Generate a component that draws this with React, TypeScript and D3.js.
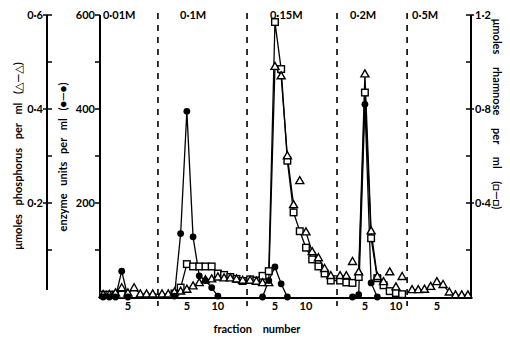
import React from "react";
import * as d3 from "d3";

// ---------- data ----------
const SALT_STEPS = ["0·01M", "0·1M", "0·15M", "0·2M", "0·5M"];
const SEG_TICKS = [[5], [5, 10], [5, 10], [5, 10], [5]];

// enzyme units per ml, per fraction (index = fraction - 1)
const ENZYME: (number | null)[][] = [
  [0, 0, 0, 55, 0, null, null, null, null],
  [null, null, 2, 135, 395, 128, 45, 35, 20, 2, null, null, null, null],
  [null, null, 0, 35, 64, 28, 0, null, null, null, null, null, null, null],
  [null, null, 0, 5, 410, 30, 0, null, null, null, null],
  [null, null, null, null, null, null, null, null, null, null],
];

// µmoles phosphorus per ml (points joined by the line)
const PHOSPHORUS: (number | null)[][] = [
  [0.005, 0.005, 0.008, 0.019, 0.008, 0.019, 0.006, 0.006, 0.006],
  [0.006, 0.006, 0.01, 0.012, 0.016, 0.023, 0.03, 0.036, 0.038, 0.042, 0.04, 0.04, 0.038, 0.035],
  [0.035, 0.033, 0.03, 0.03, 0.49, 0.47, 0.3, 0.196, null, 0.138, 0.096, 0.083, 0.06, 0.045],
  [0.045, 0.045, null, 0.053, 0.474, 0.14, 0.043, 0.032, null, 0.021, null],
  [0.015, 0.015, 0.016, 0.022, 0.032, 0.026, 0.01, 0.004, 0.004, 0.004],
];
// phosphorus points off the line: [segment, fraction, value]
const PHOSPHORUS_SCATTER: [number, number, number][] = [
  [2, 9, 0.247],
  [3, 3, 0.075],
  [3, 9, 0.053],
  [3, 11, 0.043],
];

// µmoles rhamnose per ml
const RHAMNOSE: (number | null)[][] = [
  [0.01, 0.01, 0.01, 0.01, null, null, null, null, null],
  [null, null, 0.015, 0.04, 0.14, 0.13, 0.13, 0.13, 0.13, 0.1, 0.094, 0.085, 0.077, 0.068],
  [0.075, 0.07, 0.09, 0.11, 1.17, 0.97, 0.58, 0.36, 0.28, 0.21, 0.16, 0.13, 0.1, 0.07],
  [0.07, 0.062, 0.06, 0.085, 0.87, 0.25, 0.08, 0.05, 0.025, 0.017, 0.012],
  [null, null, null, null, null, null, null, null, null, null],
];

const ENZ_TICKS = [100, 200, 300, 400, 500, 600];
const ENZ_LABELS = [200, 400, 600];
const PHOS_TICKS = [0.1, 0.2, 0.3, 0.4, 0.5, 0.6];
const PHOS_LABELS = [0.2, 0.4, 0.6];
const RHAM_TICKS = [0.2, 0.4, 0.6, 0.8, 1.0, 1.2];
const RHAM_LABELS = [0.4, 0.8, 1.2];

// ---------- layout ----------
const W = 510, H = 340;
const SEG_OFFSET = [0, 9.5, 23.7, 38.2, 49.8];
const DIVIDERS = [9.84, 24.2, 38.7, 50.0];
const SALT_LABEL_AT = [0.97, 13.4, 27.9, 40.8, 50.8];
const FONT = "Lato, 'DejaVu Sans', sans-serif";

const x = d3.scaleLinear().domain([0.5, 60.3]).range([100, 471]);
const yE = d3.scaleLinear().domain([0, 600]).range([297, 15]);
const yP = d3.scaleLinear().domain([0, 0.6]).range([297, 15]);
const yR = d3.scaleLinear().domain([0, 1.2]).range([297, 15]);

type Pt = { u: number; v: number | null };
const flatten = (arr: (number | null)[][]): Pt[] =>
  arr.flatMap((seg, s) => seg.map((v, i) => ({ u: SEG_OFFSET[s] + i + 1, v })));

const fmt = (v: number) => d3.format(".1f")(v).replace(".", "·");

export default function App() {
  const enz = flatten(ENZYME);
  const pho = flatten(PHOSPHORUS);
  const rha = flatten(RHAMNOSE);
  const scatter: Pt[] = PHOSPHORUS_SCATTER.map(([s, f, v]) => ({ u: SEG_OFFSET[s] + f, v }));

  const mkLine = (sc: d3.ScaleLinear<number, number>) =>
    d3
      .line<Pt>()
      .defined((d) => d.v != null)
      .x((d) => x(d.u))
      .y((d) => sc(d.v as number));

  const tri = "M0,-4.3L4,2.7L-4,2.7Z";
  const ax = { stroke: "#000", strokeWidth: 2, fill: "none" } as const;
  const txt = { fontFamily: FONT, fontWeight: 700, fontSize: 11, fill: "#000" } as const;

  return (
    <svg width={W} height={H} style={{ position: "absolute", left: 0, top: 0, background: "#fff" }}>
      {/* dividers */}
      {DIVIDERS.map((u, i) => (
        <line key={i} x1={x(u)} x2={x(u)} y1={13} y2={306} stroke="#000" strokeWidth={1.6} strokeDasharray="6,6" />
      ))}

      {/* enzyme axis */}
      <line x1={100} x2={100} y1={yE(600)} y2={298} {...ax} />
      {ENZ_TICKS.map((t) => (
        <line key={t} x1={95} x2={100} y1={yE(t)} y2={yE(t)} {...ax} strokeWidth={1.5} />
      ))}
      {ENZ_LABELS.map((t) => (
        <text key={t} x={95} y={yE(t) + 4} textAnchor="end" {...txt}>{t}</text>
      ))}

      {/* phosphorus axis */}
      <line x1={47} x2={47} y1={yP(0.6)} y2={290} {...ax} />
      {PHOS_TICKS.map((t) => (
        <line key={t} x1={PHOS_LABELS.some((l) => Math.abs(l - t) < 1e-9) ? 43 : 47} x2={52} y1={yP(t)} y2={yP(t)} {...ax} strokeWidth={1.5} />
      ))}
      {PHOS_LABELS.map((t) => (
        <text key={t} x={43} y={yP(t) + 4} textAnchor="end" {...txt}>{fmt(t)}</text>
      ))}

      {/* rhamnose axis */}
      <line x1={471} x2={471} y1={yR(1.2)} y2={298} {...ax} />
      {RHAM_TICKS.map((t) => (
        <line key={t} x1={466} x2={RHAM_LABELS.some((l) => Math.abs(l - t) < 1e-9) ? 474 : 471} y1={yR(t)} y2={yR(t)} {...ax} strokeWidth={1.5} />
      ))}
      {RHAM_LABELS.map((t) => (
        <text key={t} x={475} y={yR(t) + 4} textAnchor="start" {...txt}>{fmt(t)}</text>
      ))}

      {/* bottom axis */}
      <line x1={99} x2={472} y1={298} y2={298} {...ax} />
      {SEG_TICKS.map((ticks, s) =>
        ticks.map((f) => (
          <text key={s + "-" + f} x={x(SEG_OFFSET[s] + f)} y={310} textAnchor="middle" {...txt}>{f}</text>
        ))
      )}
      <text x={257} y={333} textAnchor="middle" {...txt} style={{ wordSpacing: 8 }}>fraction number</text>

      {/* salt labels */}
      {SALT_STEPS.map((s, i) => (
        <text key={s} x={x(SALT_LABEL_AT[i])} y={19} {...txt}>{s}</text>
      ))}

      {/* axis titles */}
      <text transform="translate(22,156) rotate(-90)" textAnchor="middle" {...txt} style={{ wordSpacing: 6 }}>
        μmoles phosphorus per ml (△—△)
      </text>
      <text transform="translate(67,157) rotate(-90)" textAnchor="middle" {...txt} style={{ wordSpacing: 5 }}>
        enzyme units per ml (●—●)
      </text>
      <text transform="translate(493,114) rotate(90)" textAnchor="middle" {...txt} style={{ wordSpacing: 10 }}>
        μmoles rhamnose per ml (□—□)
      </text>

      {/* lines */}
      <path d={mkLine(yR)(rha) || ""} fill="none" stroke="#000" strokeWidth={1.3} />
      <path d={mkLine(yP)(pho) || ""} fill="none" stroke="#000" strokeWidth={1.3} />
      <path d={mkLine(yE)(enz) || ""} fill="none" stroke="#000" strokeWidth={1.3} />

      {/* markers */}
      {rha.filter((d) => d.v != null).map((d, i) => (
        <rect key={"r" + i} x={x(d.u) - 3.3} y={yR(d.v as number) - 3.3} width={6.6} height={6.6} fill="#fff" stroke="#000" strokeWidth={1.4} />
      ))}
      {[...pho.filter((d) => d.v != null), ...scatter].map((d, i) => (
        <path key={"p" + i} d={tri} transform={`translate(${x(d.u)},${yP(d.v as number)})`} fill="#fff" stroke="#000" strokeWidth={1.4} />
      ))}
      {enz.filter((d) => d.v != null).map((d, i) => (
        <circle key={"e" + i} cx={x(d.u)} cy={yE(d.v as number)} r={3.4} fill="#000" />
      ))}
    </svg>
  );
}
